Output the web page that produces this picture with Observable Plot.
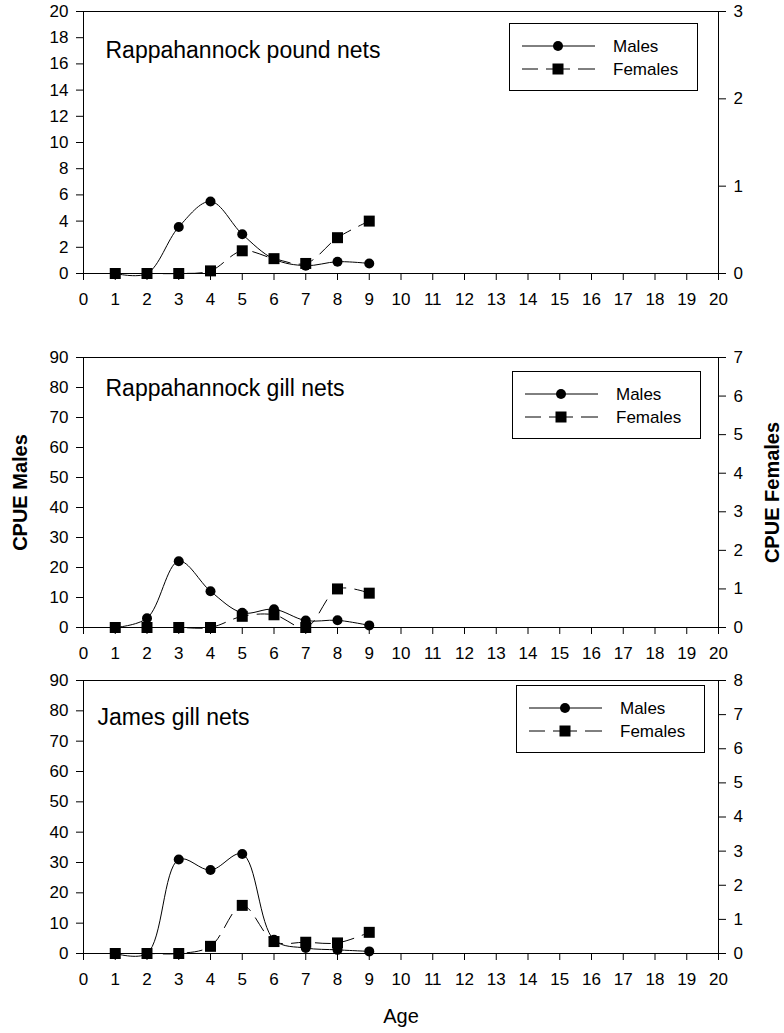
<!DOCTYPE html>
<html><head><meta charset="utf-8">
<script src="https://cdn.jsdelivr.net/npm/d3@7"></script>
<script src="https://cdn.jsdelivr.net/npm/@observablehq/plot@0.6"></script>
<style>
body{margin:0;background:#fff;}
#wrap{position:relative;width:784px;height:1033px;overflow:hidden;background:#fff;}
#wrap svg.plotpanel{display:block}
.legend{position:absolute}
</style></head><body><div id="wrap"></div>
<script>
const ages = [1, 2, 3, 4, 5, 6, 7, 8, 9];
const xTicks = d3.range(0, 21);

const pnMales   = [0, 0, 3.55, 5.5, 3.0, 1.1, 0.6, 0.9, 0.77];
const pnFemales = [0, 0, 0, 0.03, 0.26, 0.17, 0.115, 0.41, 0.60];
const gnMales   = [0, 3.1, 22.1, 12.1, 4.9, 6.1, 2.3, 2.4, 0.7];
const gnFemales = [0, 0, 0, 0, 0.29, 0.33, 0, 1.0, 0.89];
const jgMales   = [0, 0, 31.0, 27.5, 32.8, 4.5, 1.8, 1.2, 0.7];
const jgFemales = [0, 0, 0, 0.21, 1.41, 0.35, 0.33, 0.31, 0.62];

const titles = ["Rappahannock pound nets", "Rappahannock gill nets", "James gill nets"];
const seriesNames = ["Males", "Females"];
const yLeftLabel = "CPUE Males";
const yRightLabel = "CPUE Females";
const xLabel = "Age";

const panels = [
  {title: titles[0], males: pnMales, females: pnFemales, maleMax: 20, maleStep: 2, femaleMax: 3,
   height: 330, mt: 11, mb: 57, tdx: 22, tdy: 39, legend: [509, 23]},
  {title: titles[1], males: gnMales, females: gnFemales, maleMax: 90, maleStep: 10, femaleMax: 7,
   height: 335, mt: 27, mb: 38, tdx: 22, tdy: 31, legend: [512, 371], axisTitles: true},
  {title: titles[2], males: jgMales, females: jgFemales, maleMax: 90, maleStep: 10, femaleMax: 8,
   height: 368, mt: 15, mb: 80, tdx: 14, tdy: 37, legend: [516, 685], xTitle: true}
];

const wrap = document.getElementById("wrap");
const FONT = "'Liberation Sans', Arial, Helvetica, sans-serif";

for (const p of panels) {
  const k = p.maleMax / p.femaleMax;
  const m = ages.map((a, i) => ({age: a, v: p.males[i]}));
  const f = ages.map((a, i) => ({age: a, v: p.females[i] * k}));
  const marks = [
    Plot.frame({stroke: "black", strokeWidth: 1}),
    Plot.axisY(d3.range(0, p.maleMax + 1e-9, p.maleStep), {anchor: "left", tickSize: 7, tickPadding: 8, label: null}),
    Plot.axisY(d3.range(0, p.femaleMax + 1).map(v => v * k), {anchor: "right", tickSize: 7, tickPadding: 8, label: null,
      tickFormat: d => String(Math.round(d / k))}),
    Plot.axisX(xTicks, {tickSize: 7, tickPadding: 12, label: null, tickFormat: d => String(d)}),
    Plot.line(m, {x: "age", y: "v", curve: "catmull-rom", stroke: "black", strokeWidth: 1}),
    Plot.line(f, {x: "age", y: "v", curve: "catmull-rom", stroke: "black", strokeWidth: 1, strokeDasharray: "15,9"}),
    Plot.dot(m, {x: "age", y: "v", r: 5, fill: "black"}),
    Plot.dot(f, {x: "age", y: "v", r: 6.2, symbol: "square", fill: "black"}),
    Plot.text([p.title], {text: d => d, frameAnchor: "top-left", dx: p.tdx, dy: p.tdy, textAnchor: "start", lineAnchor: "middle", fontSize: 23})
  ];
  if (p.axisTitles) {
    marks.push(Plot.text([yLeftLabel], {text: d => d, frameAnchor: "left", rotate: -90, dx: -63, fontWeight: "bold", fontSize: 20, textAnchor: "middle", lineAnchor: "middle"}));
    marks.push(Plot.text([yRightLabel], {text: d => d, frameAnchor: "right", rotate: -90, dx: 54, fontWeight: "bold", fontSize: 20, textAnchor: "middle", lineAnchor: "middle"}));
  }
  if (p.xTitle) {
    marks.push(Plot.text([xLabel], {text: d => d, frameAnchor: "bottom", dy: 63, fontSize: 20, textAnchor: "middle", lineAnchor: "middle"}));
  }
  const chart = Plot.plot({
    width: 784, height: p.height,
    marginLeft: 83, marginRight: 66, marginTop: p.mt, marginBottom: p.mb,
    x: {domain: [0, 20]},
    y: {domain: [0, p.maleMax]},
    style: {fontFamily: FONT, fontSize: "17px", color: "black", background: "white", overflow: "visible"},
    marks
  });
  chart.classList.add("plotpanel");
  wrap.appendChild(chart);

  // legend box
  const [lx, ly] = p.legend;
  const w = 189, h = 68;
  const svg = d3.select(wrap).append("svg").attr("class", "legend")
    .style("left", lx + "px").style("top", ly + "px").attr("width", w).attr("height", h)
    .style("font-family", FONT).style("font-size", "17px");
  svg.append("rect").attr("x", 0.5).attr("y", 0.5).attr("width", w - 1).attr("height", h - 1)
    .attr("fill", "white").attr("stroke", "black");
  const rows = [23, 46];
  svg.append("line").attr("x1", 13).attr("x2", 86).attr("y1", rows[0]).attr("y2", rows[0]).attr("stroke", "black");
  svg.append("circle").attr("cx", 49).attr("cy", rows[0]).attr("r", 5).attr("fill", "black");
  svg.append("line").attr("x1", 13).attr("x2", 86).attr("y1", rows[1]).attr("y2", rows[1]).attr("stroke", "black")
    .attr("stroke-dasharray", "16,8,24,8,17");
  svg.append("rect").attr("x", 49 - 5.5).attr("y", rows[1] - 5.5).attr("width", 11).attr("height", 11).attr("fill", "black");
  seriesNames.forEach((s, i) => {
    svg.append("text").attr("x", 104).attr("y", rows[i]).attr("dy", "0.35em").text(s);
  });
}
</script></body></html>
